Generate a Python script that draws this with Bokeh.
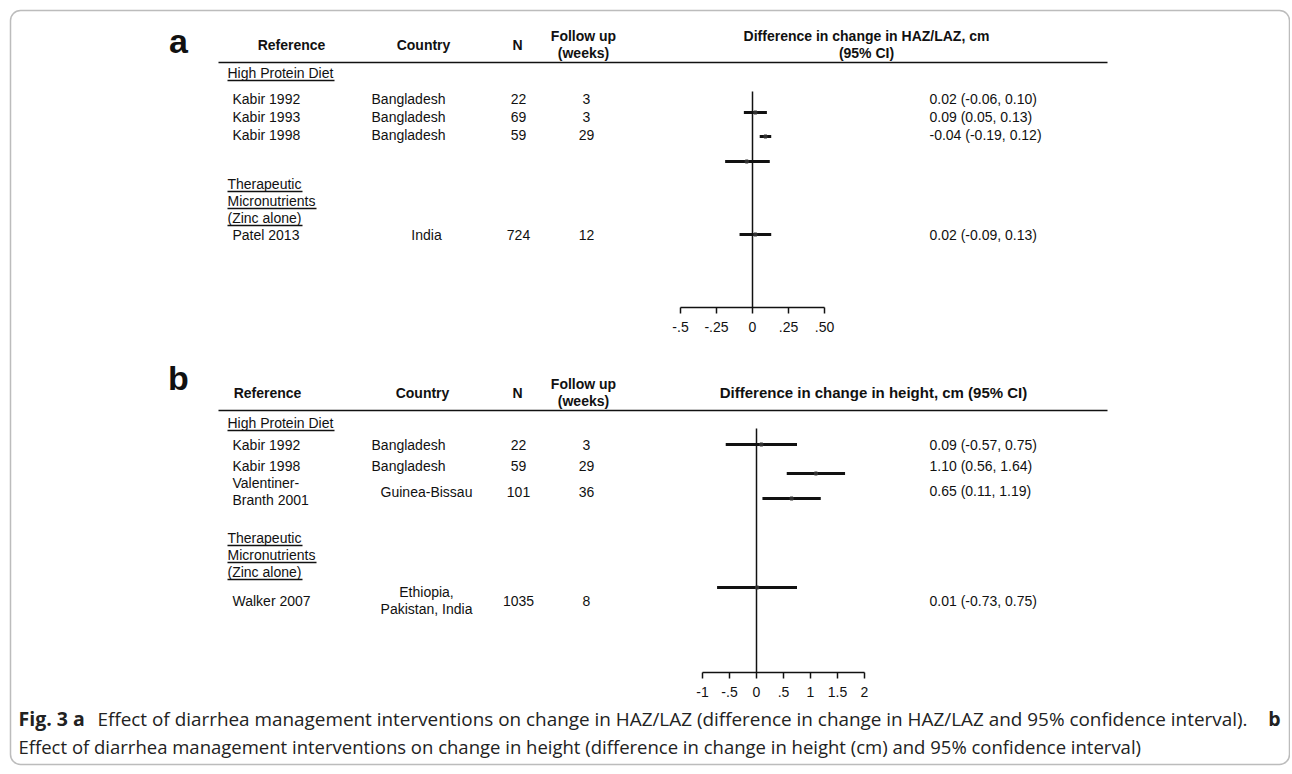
from bokeh.plotting import figure
from bokeh.models import Range1d, ColumnDataSource, BoxAnnotation
from bokeh.core.properties import value
from bokeh.embed import file_html
from bokeh.resources import INLINE

# ---------------- data ----------------
# Panel a: difference in change in HAZ/LAZ
a_groups = ["High Protein Diet", "Therapeutic\nMicronutrients\n(Zinc alone)"]
a_study = ["Kabir 1992", "Kabir 1993", "Kabir 1998", "Patel 2013"]
a_country = ["Bangladesh", "Bangladesh", "Bangladesh", "India"]
a_n = ["22", "69", "59", "724"]
a_follow = ["3", "3", "29", "12"]
a_est_text = ["0.02 (-0.06, 0.10)", "0.09 (0.05, 0.13)", "-0.04 (-0.19, 0.12)", "0.02 (-0.09, 0.13)"]
a_est = [0.02, 0.09, -0.04, 0.02]
a_lo = [-0.06, 0.05, -0.19, -0.09]
a_hi = [0.10, 0.13, 0.12, 0.13]
a_ticks = [-0.5, -0.25, 0, 0.25, 0.5]
a_tick_labels = ["-.5", "-.25", "0", ".25", ".50"]

# Panel b: difference in change in height (cm)
b_study = ["Kabir 1992", "Kabir 1998", "Valentiner-\nBranth 2001", "Walker 2007"]
b_country = ["Bangladesh", "Bangladesh", "Guinea-Bissau", "Ethiopia,\nPakistan, India"]
b_n = ["22", "59", "101", "1035"]
b_follow = ["3", "29", "36", "8"]
b_est_text = ["0.09 (-0.57, 0.75)", "1.10 (0.56, 1.64)", "0.65 (0.11, 1.19)", "0.01 (-0.73, 0.75)"]
b_est = [0.09, 1.10, 0.65, 0.01]
b_lo = [-0.57, 0.56, 0.11, -0.73]
b_hi = [0.75, 1.64, 1.19, 0.75]
b_ticks = [-1, -0.5, 0, 0.5, 1, 1.5, 2]
b_tick_labels = ["-1", "-.5", "0", ".5", "1", "1.5", "2"]

# ---------------- layout ----------------
W, H = 1290, 766
FONT = value("Liberation Sans")
CAP_FONT = value("Open Sans")
INK = "#111111"

p = figure(width=W, height=H, output_backend="svg", toolbar_location=None,
           x_range=Range1d(0, W), y_range=Range1d(H, 0),
           x_axis_location=None, y_axis_location=None, min_border=0)
p.grid.visible = False
p.outline_line_color = None
p.background_fill_color = "white"
p.border_fill_color = "white"

# forest scales (px of zero, px per unit)
A_ZERO, A_PPU = 752, 144
B_ZERO, B_PPU = 756, 54
p.extra_x_ranges = {
    "fa": Range1d((0 - A_ZERO) / A_PPU, (W - A_ZERO) / A_PPU),
    "fb": Range1d((0 - B_ZERO) / B_PPU, (W - B_ZERO) / B_PPU),
}

# rounded frame
p.add_layout(BoxAnnotation(left=10, right=1289, top=10, bottom=764, fill_alpha=0,
                           line_color="#222222", line_width=1.5, border_radius=10))


def txt(x, y, t, size="14px", bold=False, align="left", font=FONT, color=INK):
    src = ColumnDataSource(dict(x=x, y=y, t=t))
    p.text("x", "y", "t", source=src, text_font=font, text_font_size=size,
           text_font_style="bold" if bold else "normal", text_align=align,
           text_baseline="middle", text_color=color)


def multiline(x, y, t, step, **kw):
    xs, ys, ts = [], [], []
    for xi, yi, ti in zip(x, y, t):
        lines = ti.split("\n")
        y0 = yi - step * (len(lines) - 1) / 2
        for k, line in enumerate(lines):
            xs.append(xi); ys.append(y0 + k * step); ts.append(line)
    txt(xs, ys, ts, **kw)


def underline(x, y, widths):
    x0, x1, yy = [], [], []
    for xi, yi, wi in zip(x, y, widths):
        x0.append(xi); x1.append(xi + wi); yy.append(yi + 8)
    p.segment(x0=x0, y0=yy, x1=x1, y1=yy, line_color=INK, line_width=1.3)


def panel(letter, ly, hdr_line_y, headers, group_rows, group_text, group_w,
          rows, study, country, country_x, n, follow, est_text, est_rows,
          mark_rows, est, lo, hi, rng, zero_top, axis_y, ticks, tick_labels):
    txt([178], [ly], [letter], size="34px", bold=True, align="center")
    for (t, x, y, s) in headers:
        txt([x], [y], [t], bold=True, align="center", size=s)
    p.segment(x0=[218], y0=[hdr_line_y], x1=[1107], y1=[hdr_line_y], line_color=INK, line_width=1.6)
    gx, gy, gt, gw = [], [], [], []
    for yg, tg, wg in zip(group_rows, group_text, group_w):
        for k, line in enumerate(tg.split("\n")):
            gx.append(227); gy.append(yg + 17 * k); gt.append(line); gw.append(wg[k])
    txt(gx, gy, gt)
    underline(gx, gy, gw)
    multiline([232] * len(study), rows, study, 17)
    multiline(country_x, rows, country, 17, align="center")
    txt([518] * len(n), rows, n, align="center")
    txt([586] * len(follow), rows, follow, align="center")
    txt([929] * len(est_text), est_rows, est_text)
    # forest
    p.segment(x0=[0], x1=[0], y0=[zero_top], y1=[axis_y], x_range_name=rng,
              line_color=INK, line_width=1.5)
    p.segment(x0=lo, x1=hi, y0=mark_rows, y1=mark_rows, x_range_name=rng,
              line_color=INK, line_width=3)
    p.scatter(x=est, y=mark_rows, x_range_name=rng, marker="square", size=3,
              color="#333333")
    p.segment(x0=[min(ticks)], x1=[max(ticks)], y0=[axis_y], y1=[axis_y], x_range_name=rng,
              line_color=INK, line_width=1.5)
    p.segment(x0=ticks, x1=ticks, y0=[axis_y] * len(ticks), y1=[axis_y + 6] * len(ticks),
              x_range_name=rng, line_color=INK, line_width=1.5)
    src = ColumnDataSource(dict(x=ticks, y=[axis_y + 19] * len(ticks), t=tick_labels))
    p.text("x", "y", "t", source=src, x_range_name=rng, text_font=FONT,
           text_font_size="14px", text_align="center", text_baseline="middle",
           text_color=INK)


panel("a", 40, 62,
      [("Reference", 291, 44, "14px"), ("Country", 423, 44, "14px"), ("N", 517, 44, "14px"),
       ("Follow up", 583, 35, "14px"), ("(weeks)", 583, 52, "14px"),
       ("Difference in change in HAZ/LAZ, cm", 866, 35, "14px"), ("(95% CI)", 866, 52, "14px")],
      [72, 183], a_groups, [[107], [75, 89, 75]],
      [98, 116, 134, 234], a_study, a_country, [408, 408, 408, 426], a_n, a_follow,
      a_est_text, [98, 116, 134, 234],
      [112, 136, 161, 234], a_est, a_lo, a_hi, "fa", 91, 307, a_ticks, a_tick_labels)

panel("b", 377, 410,
      [("Reference", 267, 392, "14px"), ("Country", 422, 392, "14px"), ("N", 517, 392, "14px"),
       ("Follow up", 583, 383, "14px"), ("(weeks)", 583, 400, "14px"),
       ("Difference in change in height, cm (95% CI)", 873, 392, "15px")],
      [422, 537], a_groups, [[107], [75, 89, 75]],
      [444, 465, 491, 600], b_study, b_country, [408, 408, 426, 426], b_n, b_follow,
      b_est_text, [444, 465, 490, 600],
      [444, 473, 498, 587], b_est, b_lo, b_hi, "fb", 428, 672, b_ticks, b_tick_labels)

# caption
CAP = "#222222"
txt([18], [718], ["Fig. 3 a"], size="19.5px", bold=True, font=CAP_FONT, color=CAP)
txt([97], [718], ["Effect of diarrhea management interventions on change in HAZ/LAZ "
                  "(difference in change in HAZ/LAZ and 95% confidence interval)."],
    size="18.9px", font=CAP_FONT, color=CAP)
txt([1280], [718], ["b"], size="19.5px", bold=True, align="right", font=CAP_FONT, color=CAP)
txt([18], [746], ["Effect of diarrhea management interventions on change in height "
                  "(difference in change in height (cm) and 95% confidence interval)"],
    size="18.5px", font=CAP_FONT, color=CAP)

open("out.html", "w").write(file_html(p, INLINE))
